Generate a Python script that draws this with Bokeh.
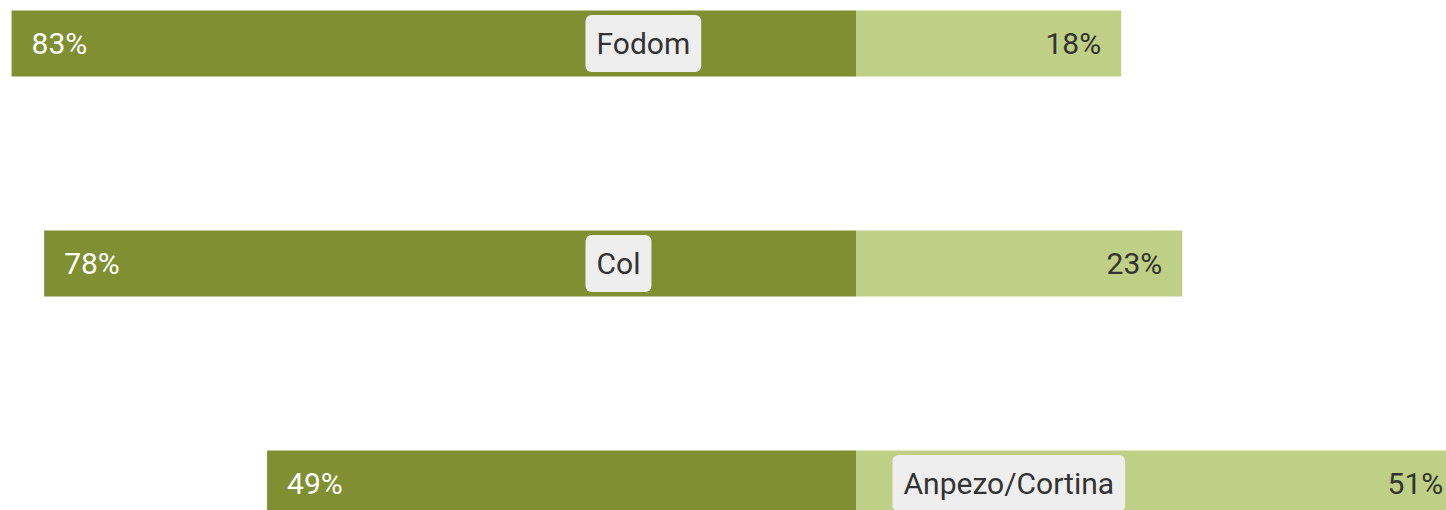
from bokeh.plotting import figure
from bokeh.models import ColumnDataSource, Range1d
from bokeh.core.properties import value
from bokeh.embed import file_html
from bokeh.resources import INLINE

categories = ["Fodom", "Col", "Anpezo/Cortina"]
left_labels = ["83%", "78%", "49%"]
right_labels = ["18%", "23%", "51%"]
left_extent = [83.0, 79.8, 57.9]
right_extent = [26.0, 32.0, 59.6]

DARK = "#808f32"
LIGHT = "#bfcf86"
FONT = value("Roboto")

W, H = 1446, 510
CENTER = 856
S = 10.18  # px per unit
X0 = -CENTER / S
X1 = (W - CENTER) / S
Y0 = -43 / 220
Y1 = Y0 + H / 220

idx = list(range(len(categories)))
src = ColumnDataSource(dict(
    y=idx,
    neg=[-v for v in left_extent],
    pos=right_extent,
    zero=[0] * len(idx),
    ll=left_labels,
    rl=right_labels,
    rx=[min(r - 20 / S, X1 - 3 / S) for r in right_extent],
    cat=categories,
    cx=[-26.62 if l > r else 3.54 for l, r in zip(left_extent, right_extent)],
))

p = figure(width=W, height=H, x_range=Range1d(X0, X1), y_range=Range1d(Y1, Y0),
           output_backend="svg", toolbar_location=None, min_border=0)
p.axis.visible = False
p.grid.visible = False
p.outline_line_color = None
p.background_fill_color = "white"

p.hbar(y="y", left="neg", right="zero", height=0.3, source=src, fill_color=DARK, line_color=None)
p.hbar(y="y", left="zero", right="pos", height=0.3, source=src, fill_color=LIGHT, line_color=None)

p.text(x="neg", y="y", text="ll", source=src, x_offset=20, text_align="left",
       text_baseline="middle", text_color="white", text_font=FONT, text_font_size="30px")
p.text(x="rx", y="y", text="rl", source=src, text_align="right",
       text_baseline="middle", text_color="#333333", text_font=FONT, text_font_size="30px")
p.text(x="cx", y="y", text="cat", source=src, text_align="left",
       text_baseline="middle", text_color="#333333", text_font=FONT, text_font_size="30px",
       background_fill_color="#eeeeee", padding=11, border_radius=6)

open("out.html", "w").write(file_html(p, INLINE))
